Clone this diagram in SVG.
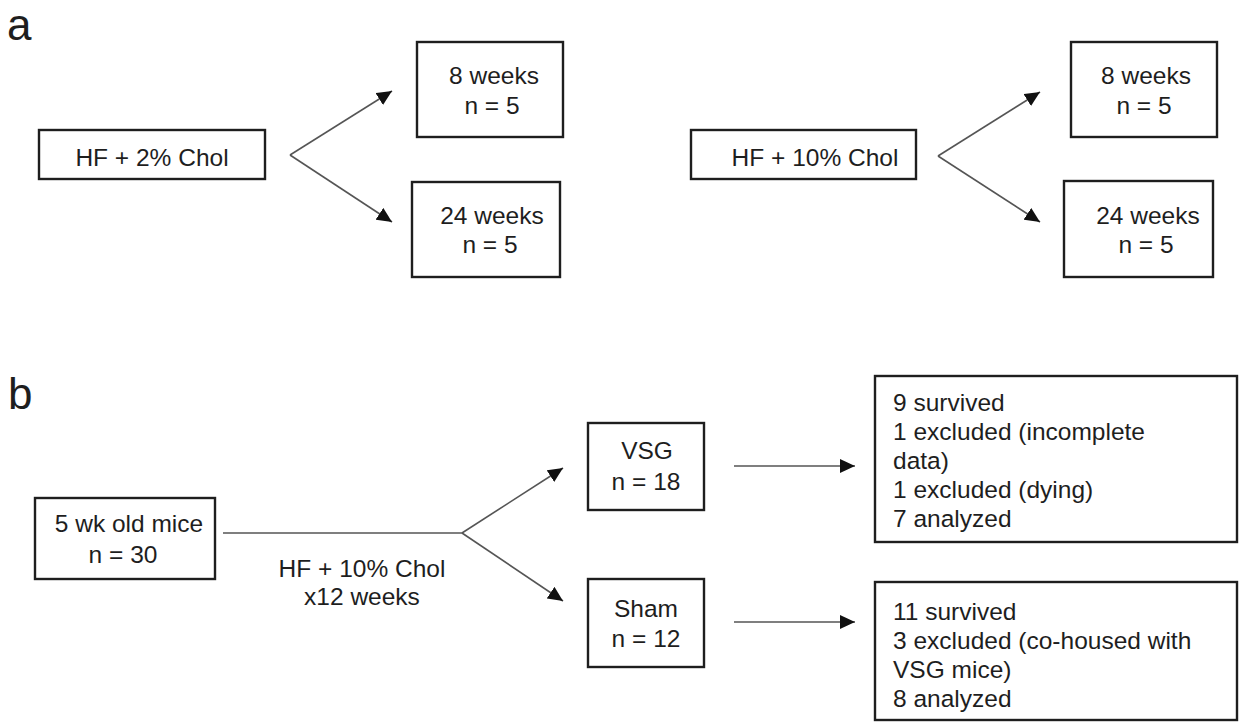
<svg xmlns="http://www.w3.org/2000/svg" width="1244" height="726" viewBox="0 0 1244 726">
<style>
  .box { fill: #ffffff; stroke: #1e1e1e; stroke-width: 2.4; }
  .t { font-family: "Liberation Sans", Arial, sans-serif; font-size: 24.5px; fill: #1e1e1e; }
  .c { text-anchor: middle; }
  .panel { font-family: "Liberation Sans", Arial, sans-serif; font-size: 44px; fill: #1e1e1e; }
  .conn { stroke: #555555; stroke-width: 1.6; fill: none; }
  .arr { marker-end: url(#ah); }
</style>
<defs>
  <marker id="ah" markerUnits="userSpaceOnUse" markerWidth="16" markerHeight="14" refX="15" refY="7" orient="auto">
    <path d="M0,0 L15,7 L0,14 z" fill="#111111"/>
  </marker>
</defs>
<rect width="1244" height="726" fill="#ffffff"/>

<text class="panel" x="7" y="40">a</text>
<text class="panel" x="8" y="409">b</text>

<g id="connectors">
  <line class="conn arr" x1="290" y1="155" x2="392" y2="91"/>
  <line class="conn arr" x1="290" y1="155" x2="392" y2="222"/>
  <line class="conn arr" x1="938" y1="156" x2="1040" y2="92"/>
  <line class="conn arr" x1="938" y1="156" x2="1040" y2="222"/>
  <line class="conn" x1="223" y1="533" x2="462" y2="533"/>
  <line class="conn arr" x1="462" y1="533" x2="563" y2="468"/>
  <line class="conn arr" x1="462" y1="533" x2="563" y2="601"/>
  <line class="conn arr" x1="734" y1="466" x2="855" y2="466"/>
  <line class="conn arr" x1="734" y1="622" x2="855" y2="622"/>
  <text class="t c" x="362" y="577">HF + 10% Chol</text>
  <text class="t c" x="362" y="605">x12 weeks</text>
</g>

<g id="hf2">
  <rect class="box" x="39" y="130" width="226" height="49"/>
  <text class="t c" x="152" y="166">HF + 2% Chol</text>
</g>
<g id="a1-8w">
  <rect class="box" x="417" y="42" width="146" height="95"/>
  <text class="t c" x="494" y="84">8 weeks</text>
  <text class="t c" x="492" y="114">n = 5</text>
</g>
<g id="a1-24w">
  <rect class="box" x="412" y="182" width="148" height="95"/>
  <text class="t c" x="492" y="224">24 weeks</text>
  <text class="t c" x="490" y="253">n = 5</text>
</g>
<g id="hf10">
  <rect class="box" x="691" y="130" width="225" height="49"/>
  <text class="t c" x="815" y="166">HF + 10% Chol</text>
</g>
<g id="a2-8w">
  <rect class="box" x="1071" y="42" width="146" height="95"/>
  <text class="t c" x="1146" y="84">8 weeks</text>
  <text class="t c" x="1144" y="114">n = 5</text>
</g>
<g id="a2-24w">
  <rect class="box" x="1064" y="181" width="149" height="96"/>
  <text class="t c" x="1148" y="224">24 weeks</text>
  <text class="t c" x="1146" y="253">n = 5</text>
</g>

<g id="mice">
  <rect class="box" x="35" y="498" width="180" height="81"/>
  <text class="t c" x="129" y="532">5 wk old mice</text>
  <text class="t c" x="123" y="563">n = 30</text>
</g>
<g id="vsg">
  <rect class="box" x="588" y="423" width="116" height="87"/>
  <text class="t c" x="647" y="459">VSG</text>
  <text class="t c" x="646" y="490">n = 18</text>
</g>
<g id="sham">
  <rect class="box" x="588" y="579" width="116" height="88"/>
  <text class="t c" x="646" y="617">Sham</text>
  <text class="t c" x="646" y="647">n = 12</text>
</g>
<g id="vsg-out">
  <rect class="box" x="875" y="376" width="362" height="166"/>
  <text class="t" x="893" y="411">9 survived</text>
  <text class="t" x="893" y="440">1 excluded (incomplete</text>
  <text class="t" x="893" y="469">data)</text>
  <text class="t" x="893" y="498">1 excluded (dying)</text>
  <text class="t" x="893" y="527">7 analyzed</text>
</g>
<g id="sham-out">
  <rect class="box" x="875" y="582" width="362" height="138"/>
  <text class="t" x="893" y="620">11 survived</text>
  <text class="t" x="893" y="649">3 excluded (co-housed with</text>
  <text class="t" x="893" y="678">VSG mice)</text>
  <text class="t" x="893" y="707">8 analyzed</text>
</g>
</svg>
